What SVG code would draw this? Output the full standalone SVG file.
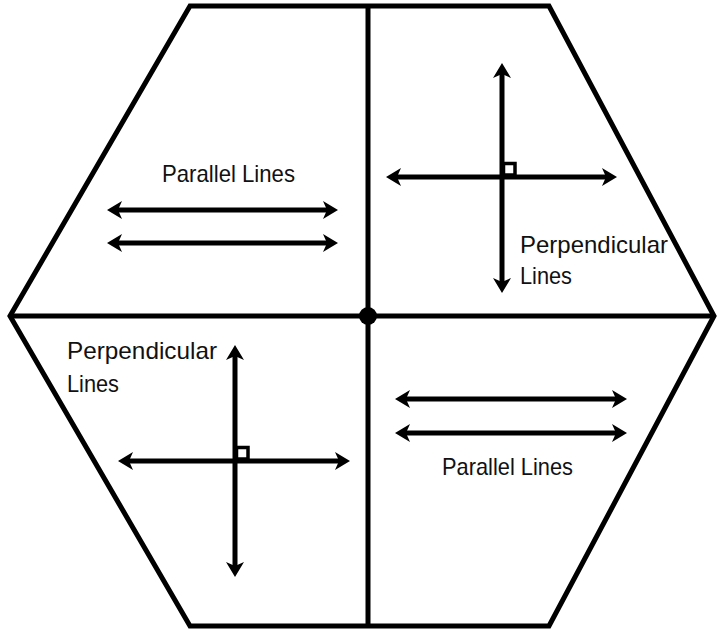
<svg xmlns="http://www.w3.org/2000/svg" width="718" height="630" viewBox="0 0 718 630">
<style>
.frame{fill:none;stroke:#000;stroke-width:5;stroke-linejoin:miter}
.arr{stroke:#000;stroke-width:5;fill:none;marker-start:url(#ah);marker-end:url(#ah)}
.sq{fill:#fff;stroke:#000;stroke-width:3.5}
text{font-family:"Liberation Sans",Arial,sans-serif;font-size:24px;fill:#111}
</style>
<defs>
<marker id="ah" markerUnits="userSpaceOnUse" markerWidth="30" markerHeight="30" viewBox="-10 -15 30 30" refX="0" refY="0" orient="auto-start-reverse">
<path d="M10,0 L-5,-9 L-1,0 L-5,9 Z" fill="#000"/>
</marker>
</defs>
<g id="hexagon">
<polygon class="frame" points="190,6 549,6 714,316 549,626 190,626 10,316"/>
<line class="frame" x1="368" y1="6" x2="368" y2="626"/>
<line class="frame" x1="10" y1="316" x2="714" y2="316"/>
<circle cx="368" cy="316" r="9" fill="#000"/>
</g>
<g id="connectors">
<line class="arr" x1="117" y1="210" x2="328" y2="210"/>
<line class="arr" x1="117" y1="243" x2="328" y2="243"/>
<line class="arr" x1="396" y1="177" x2="607" y2="177"/>
<line class="arr" x1="502" y1="73" x2="502" y2="283"/>
<line class="arr" x1="128" y1="461" x2="340" y2="461"/>
<line class="arr" x1="235" y1="355" x2="235" y2="567"/>
<line class="arr" x1="405" y1="399" x2="617" y2="399"/>
<line class="arr" x1="405" y1="433" x2="617" y2="433"/>
</g>
<g id="q1">
<text x="162" y="182" textLength="133" lengthAdjust="spacingAndGlyphs">Parallel Lines</text>
</g>
<g id="q2">
<rect class="sq" x="503.5" y="163.5" width="11.5" height="11.5"/>
<text x="520" y="253" textLength="148" lengthAdjust="spacingAndGlyphs">Perpendicular</text>
<text x="520" y="284" textLength="52" lengthAdjust="spacingAndGlyphs">Lines</text>
</g>
<g id="q3">
<rect class="sq" x="236.5" y="447.5" width="11.5" height="11.5"/>
<text x="67" y="359" textLength="150" lengthAdjust="spacingAndGlyphs">Perpendicular</text>
<text x="67" y="392" textLength="52" lengthAdjust="spacingAndGlyphs">Lines</text>
</g>
<g id="q4">
<text x="442" y="475" textLength="131" lengthAdjust="spacingAndGlyphs">Parallel Lines</text>
</g>
</svg>
